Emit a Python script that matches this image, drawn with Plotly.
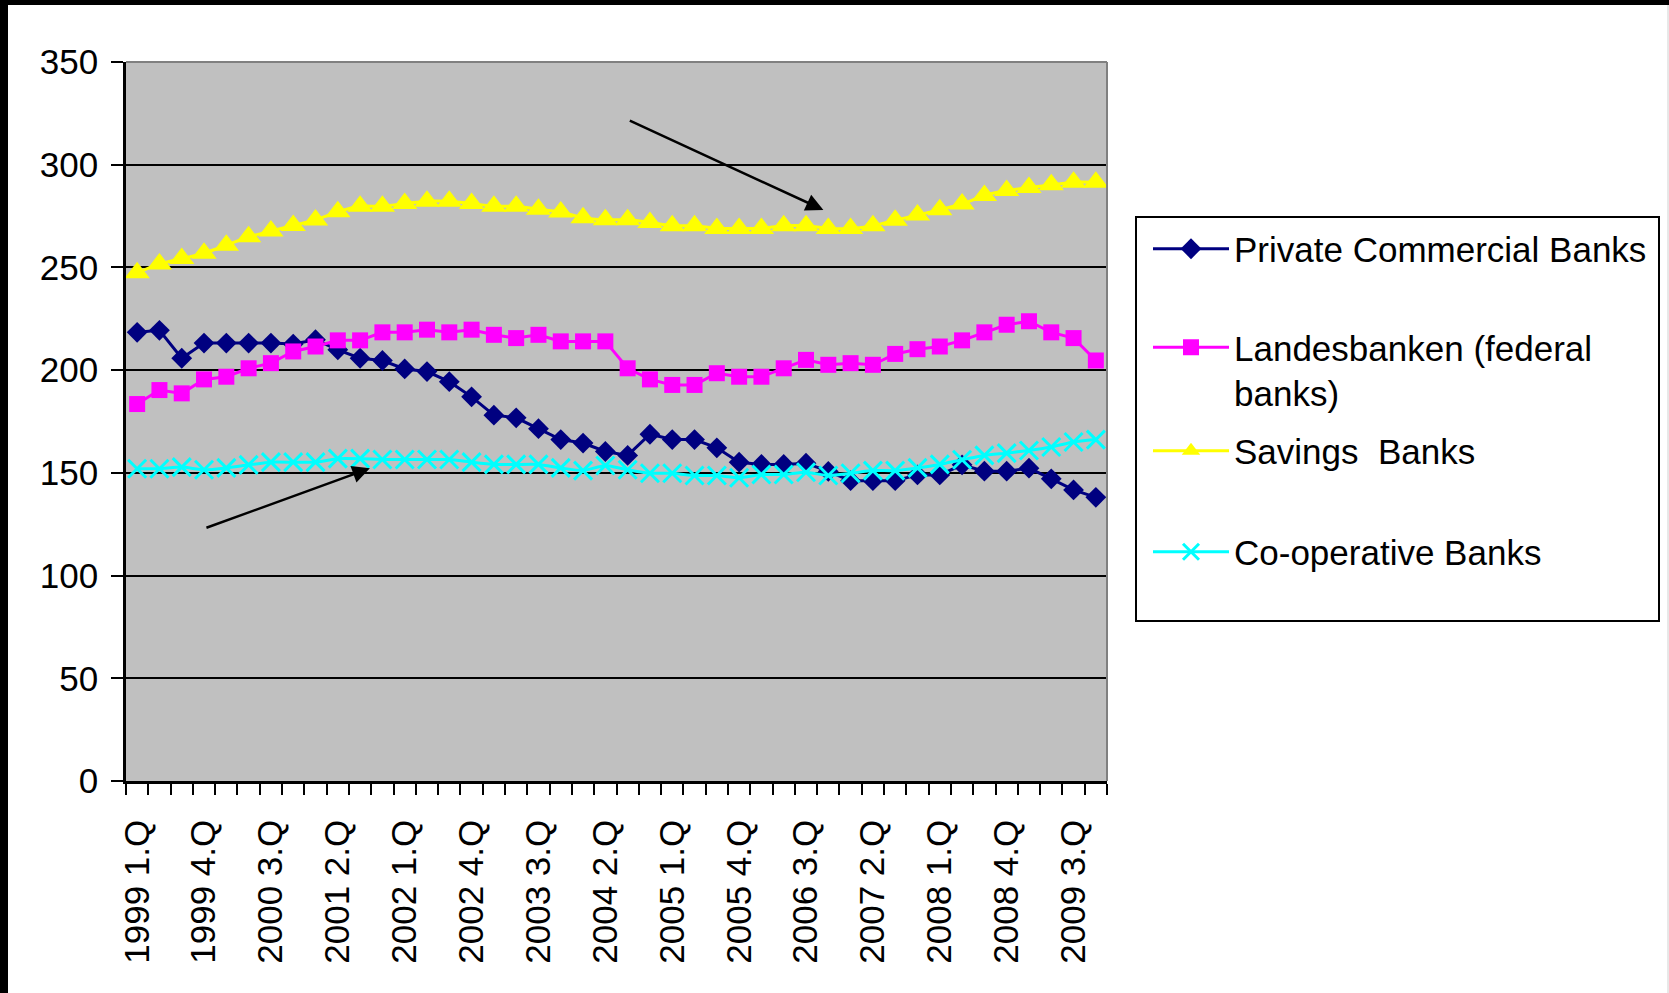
import plotly.graph_objects as go

# Quarterly categories, 1999 Q1 .. 2009 Q4
quarters = [f"{y} {q}.Q" for y in range(1999, 2010) for q in range(1, 5)]

private_commercial = [218.4, 219.4, 205.8, 213.2, 213.2, 213.2, 213.2, 212.7, 214.8, 209.9,
                      205.8, 204.7, 200.6, 199.3, 194.4, 187.0, 178.1, 176.8, 171.5, 166.2,
                      164.5, 160.4, 158.5, 168.8, 166.2, 166.2, 162.2, 155.2, 154.1, 154.1,
                      154.7, 150.7, 146.2, 146.2, 146.2, 149.0, 149.0, 153.9, 150.8, 150.8,
                      152.3, 147.1, 141.7, 138.1]
landesbanken = [183.5, 190.3, 188.7, 195.5, 196.8, 200.9, 203.4, 209.1, 211.5, 214.5,
                214.5, 218.4, 218.4, 219.7, 218.4, 219.7, 217.2, 215.6, 217.2, 214.0,
                214.0, 214.0, 200.9, 195.5, 192.8, 192.8, 198.5, 196.8, 196.8, 200.9,
                205.0, 202.6, 203.4, 202.6, 207.9, 210.2, 211.5, 214.5, 218.4, 222.1,
                223.8, 218.4, 215.6, 204.7]
savings = [247.4, 251.7, 254.3, 256.9, 260.8, 264.9, 267.7, 270.4, 273.1, 277.1,
           279.8, 279.8, 281.1, 282.2, 282.2, 281.1, 279.8, 279.8, 278.3, 277.0,
           274.2, 273.2, 273.2, 271.9, 270.3, 270.3, 269.0, 269.0, 269.0, 270.3,
           270.3, 269.0, 269.0, 270.3, 273.0, 275.5, 278.1, 280.9, 285.0, 287.4,
           288.9, 290.2, 291.5, 291.5]
cooperative = [152.0, 152.0, 152.8, 151.5, 152.4, 153.9, 155.2, 155.2, 155.2, 156.9,
               156.9, 156.5, 156.5, 156.5, 156.5, 155.2, 154.1, 154.1, 154.1, 152.4,
               151.1, 153.6, 151.5, 149.8, 149.8, 148.7, 148.7, 147.6, 149.2, 149.2,
               150.3, 148.7, 149.8, 151.1, 151.1, 152.4, 154.1, 156.4, 158.5, 159.6,
               160.9, 162.6, 165.0, 166.2]

series_names = ["Private Commercial Banks", "Landesbanken (federal<br>banks)",
                "Savings  Banks", "Co-operative Banks"]
y_ticks = [0, 50, 100, 150, 200, 250, 300, 350]
label_step = 3

# Arrow annotations: (tail x, tail y, head x, head y) in data units
arrows = [(3.04, 123.0, 10.44, 152.2), (22.03, 321.8, 30.78, 278.0)]

FONT = "Liberation Sans, Arial, sans-serif"
FS = 35
W, H = 1669, 993
ML, MR, MT, MB = 126, 562, 62, 212
PW, PH = W - ML - MR, H - MT - MB


def px_x(px):
    return (px - ML) / PW


def px_y(py):
    return (H - MB - py) / PH


x_idx = list(range(len(quarters)))

styles = [
    dict(data=private_commercial, color="#000080", symbol="diamond", size=16, shape="linear"),
    dict(data=landesbanken, color="#FF00FF", symbol="square", size=16, shape="linear"),
    dict(data=savings, color="#FFFF00", symbol="triangle-up", size=22, shape="spline"),
    dict(data=cooperative, color="#00FFFF", symbol="x-thin", size=18, shape="spline"),
]
legend_ids = ["legend", "legend2", "legend3", "legend4"]
legend_rows = [249, 370, 451, 552]

fig = go.Figure()
for name, st, lg in zip(series_names, styles, legend_ids):
    marker = dict(symbol=st["symbol"], size=st["size"], color=st["color"])
    if st["symbol"] == "x-thin":
        marker["line"] = dict(color=st["color"], width=3)
    fig.add_trace(go.Scatter(
        x=x_idx, y=st["data"], name=name, mode="lines+markers",
        line=dict(color=st["color"], width=3, shape=st["shape"], smoothing=0.5),
        marker=marker, legend=lg,
    ))

legend_common = dict(
    font=dict(family=FONT, size=FS, color="black"),
    bgcolor="rgba(0,0,0,0)", borderwidth=0, itemwidth=76,
    xanchor="left", yanchor="middle", valign="top",
    itemclick=False, itemdoubleclick=False,
)
legend_layouts = {}
for lg, row in zip(legend_ids, legend_rows):
    legend_layouts[lg] = dict(legend_common, x=px_x(1148), y=px_y(row))

tick_idx = x_idx[::label_step]
tick_text = quarters[::label_step]

shapes = [
    # gray plot border on top and right
    dict(type="line", xref="paper", yref="paper", x0=0, x1=1, y0=1, y1=1,
         line=dict(color="#808080", width=2), layer="above"),
    dict(type="line", xref="paper", yref="paper", x0=1, x1=1, y0=0, y1=1,
         line=dict(color="#808080", width=2), layer="above"),
    # legend frame
    dict(type="rect", xref="paper", yref="paper", x0=px_x(1136), x1=px_x(1659),
         y0=px_y(621), y1=px_y(217), line=dict(color="black", width=2)),
    # outer frame bands
    dict(type="rect", xref="paper", yref="paper", x0=px_x(0), x1=px_x(W),
         y0=px_y(5), y1=px_y(0), fillcolor="black", line=dict(width=0)),
    dict(type="rect", xref="paper", yref="paper", x0=px_x(0), x1=px_x(8),
         y0=px_y(H), y1=px_y(0), fillcolor="black", line=dict(width=0)),
    dict(type="line", xref="paper", yref="paper", x0=px_x(W - 1), x1=px_x(W - 1),
         y0=px_y(H), y1=px_y(5), line=dict(color="#D0D0D0", width=1)),
]

annotations = [
    dict(x=hx, y=hy, ax=tx, ay=ty, xref="x", yref="y", axref="x", ayref="y",
         text="", showarrow=True, arrowhead=2, arrowsize=1.4, arrowwidth=2.5,
         arrowcolor="black", standoff=0)
    for tx, ty, hx, hy in arrows
]

fig.update_layout(
    width=W, height=H,
    margin=dict(l=ML, r=MR, t=MT, b=MB, autoexpand=False),
    paper_bgcolor="white", plot_bgcolor="#C0C0C0",
    font=dict(family=FONT, size=FS, color="black"),
    showlegend=True,
    shapes=shapes, annotations=annotations,
    **legend_layouts,
)

fig.update_xaxes(
    range=[-0.5, len(quarters) - 0.5], tickmode="array",
    tickvals=tick_idx, ticktext=tick_text, tickangle=-90,
    ticks="", showgrid=False, zeroline=False,
    showline=True, linecolor="black", linewidth=2.5,
    ticklabelstandoff=22,
    tickfont=dict(family=FONT, size=FS, color="black"),
    minor=dict(tickmode="array", tickvals=[i - 0.5 for i in range(len(quarters) + 1)],
               ticks="outside", ticklen=11, tickwidth=2, tickcolor="black", showgrid=False),
)
fig.update_yaxes(
    range=[0, 350], tickmode="array", tickvals=y_ticks,
    ticks="outside", ticklen=12, tickwidth=2, tickcolor="black",
    showgrid=True, gridcolor="black", gridwidth=2, zeroline=False,
    showline=True, linecolor="black", linewidth=2.5,
    ticklabelstandoff=6,
    tickfont=dict(family=FONT, size=FS, color="black"),
)

fig.write_html("out.html")
